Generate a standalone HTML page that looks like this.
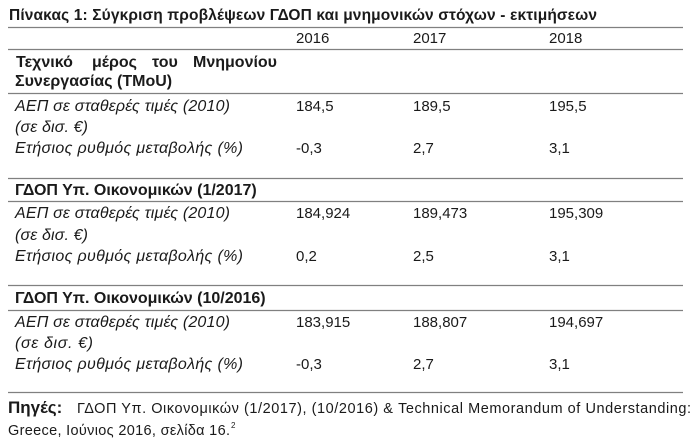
<!DOCTYPE html>
<html>
<head>
<meta charset="utf-8">
<style>
html,body{margin:0;padding:0;background:#fff;}
svg{display:block;}
text{font-family:"Liberation Sans","DejaVu Sans",sans-serif;fill:#1a1a1a;}
.b{font-weight:bold;}
.i{font-style:italic;}
</style>
</head>
<body>
<svg width="700" height="443" viewBox="0 0 700 443" xmlns="http://www.w3.org/2000/svg">
<g stroke="#808080" stroke-width="1.2">
<line x1="8" y1="27.5" x2="683" y2="27.5"/>
<line x1="8" y1="49.5" x2="683" y2="49.5"/>
<line x1="8" y1="93.5" x2="683" y2="93.5"/>
<line x1="8" y1="178.5" x2="683" y2="178.5"/>
<line x1="8" y1="201.5" x2="683" y2="201.5"/>
<line x1="8" y1="285.5" x2="683" y2="285.5"/>
<line x1="8" y1="310.5" x2="683" y2="310.5"/>
<line x1="8" y1="392.5" x2="683" y2="392.5"/>
</g>

<text class="b" x="9" y="20" font-size="15.5" textLength="588" lengthAdjust="spacing">Πίνακας 1: Σύγκριση προβλέψεων ΓΔΟΠ και μνημονικών στόχων - εκτιμήσεων</text>

<g font-size="15">
<text x="296" y="43">2016</text>
<text x="413" y="43">2017</text>
<text x="549" y="43">2018</text>
</g>

<!-- Section 1 -->
<g font-size="16">
<text class="b" x="16" y="67">Τεχνικό</text>
<text class="b" x="92" y="67">μέρος</text>
<text class="b" x="152" y="67">του</text>
<text class="b" x="193" y="67">Μνημονίου</text>
<text class="b" x="15" y="86">Συνεργασίας (TMoU)</text>
</g>
<g font-size="16">
<text class="i" x="15" y="111" textLength="215" lengthAdjust="spacing">ΑΕΠ σε σταθερές τιμές (2010)</text>
<text class="i" x="15" y="132" textLength="73" lengthAdjust="spacing">(σε δισ. €)</text>
<text class="i" x="15" y="153" textLength="228" lengthAdjust="spacing">Ετήσιος ρυθμός μεταβολής (%)</text>
</g>
<g font-size="15">
<text x="296" y="111">184,5</text>
<text x="413" y="111">189,5</text>
<text x="549" y="111">195,5</text>
<text x="296" y="153">-0,3</text>
<text x="413" y="153">2,7</text>
<text x="549" y="153">3,1</text>
</g>

<!-- Section 2 -->
<text class="b" x="15" y="195" font-size="16">ΓΔΟΠ Υπ. Οικονομικών (1/2017)</text>
<g font-size="16">
<text class="i" x="15" y="218" textLength="215" lengthAdjust="spacing">ΑΕΠ σε σταθερές τιμές (2010)</text>
<text class="i" x="15" y="240" textLength="73" lengthAdjust="spacing">(σε δισ. €)</text>
<text class="i" x="15" y="261" textLength="228" lengthAdjust="spacing">Ετήσιος ρυθμός μεταβολής (%)</text>
</g>
<g font-size="15">
<text x="296" y="218">184,924</text>
<text x="413" y="218">189,473</text>
<text x="549" y="218">195,309</text>
<text x="296" y="261">0,2</text>
<text x="413" y="261">2,5</text>
<text x="549" y="261">3,1</text>
</g>

<!-- Section 3 -->
<text class="b" x="15" y="303" font-size="16">ΓΔΟΠ Υπ. Οικονομικών (10/2016)</text>
<g font-size="16">
<text class="i" x="15" y="327" textLength="215" lengthAdjust="spacing">ΑΕΠ σε σταθερές τιμές (2010)</text>
<text class="i" x="15" y="348" textLength="78" lengthAdjust="spacing">(σε  δισ. €)</text>
<text class="i" x="15" y="369" textLength="228" lengthAdjust="spacing">Ετήσιος ρυθμός μεταβολής (%)</text>
</g>
<g font-size="15">
<text x="296" y="327">183,915</text>
<text x="413" y="327">188,807</text>
<text x="549" y="327">194,697</text>
<text x="296" y="369">-0,3</text>
<text x="413" y="369">2,7</text>
<text x="549" y="369">3,1</text>
</g>

<!-- Footer -->
<text class="b" x="8" y="413" font-size="17">Πηγές:</text>
<text x="77" y="413" font-size="14.5" textLength="614" lengthAdjust="spacing">ΓΔΟΠ Υπ. Οικονομικών (1/2017), (10/2016) &amp; Technical Memorandum of Understanding:</text>
<text x="8" y="435" font-size="14.5" textLength="222" lengthAdjust="spacing">Greece, Ιούνιος 2016, σελίδα 16.</text>
<text x="231" y="428" font-size="8">2</text>
</svg>
</body>
</html>
